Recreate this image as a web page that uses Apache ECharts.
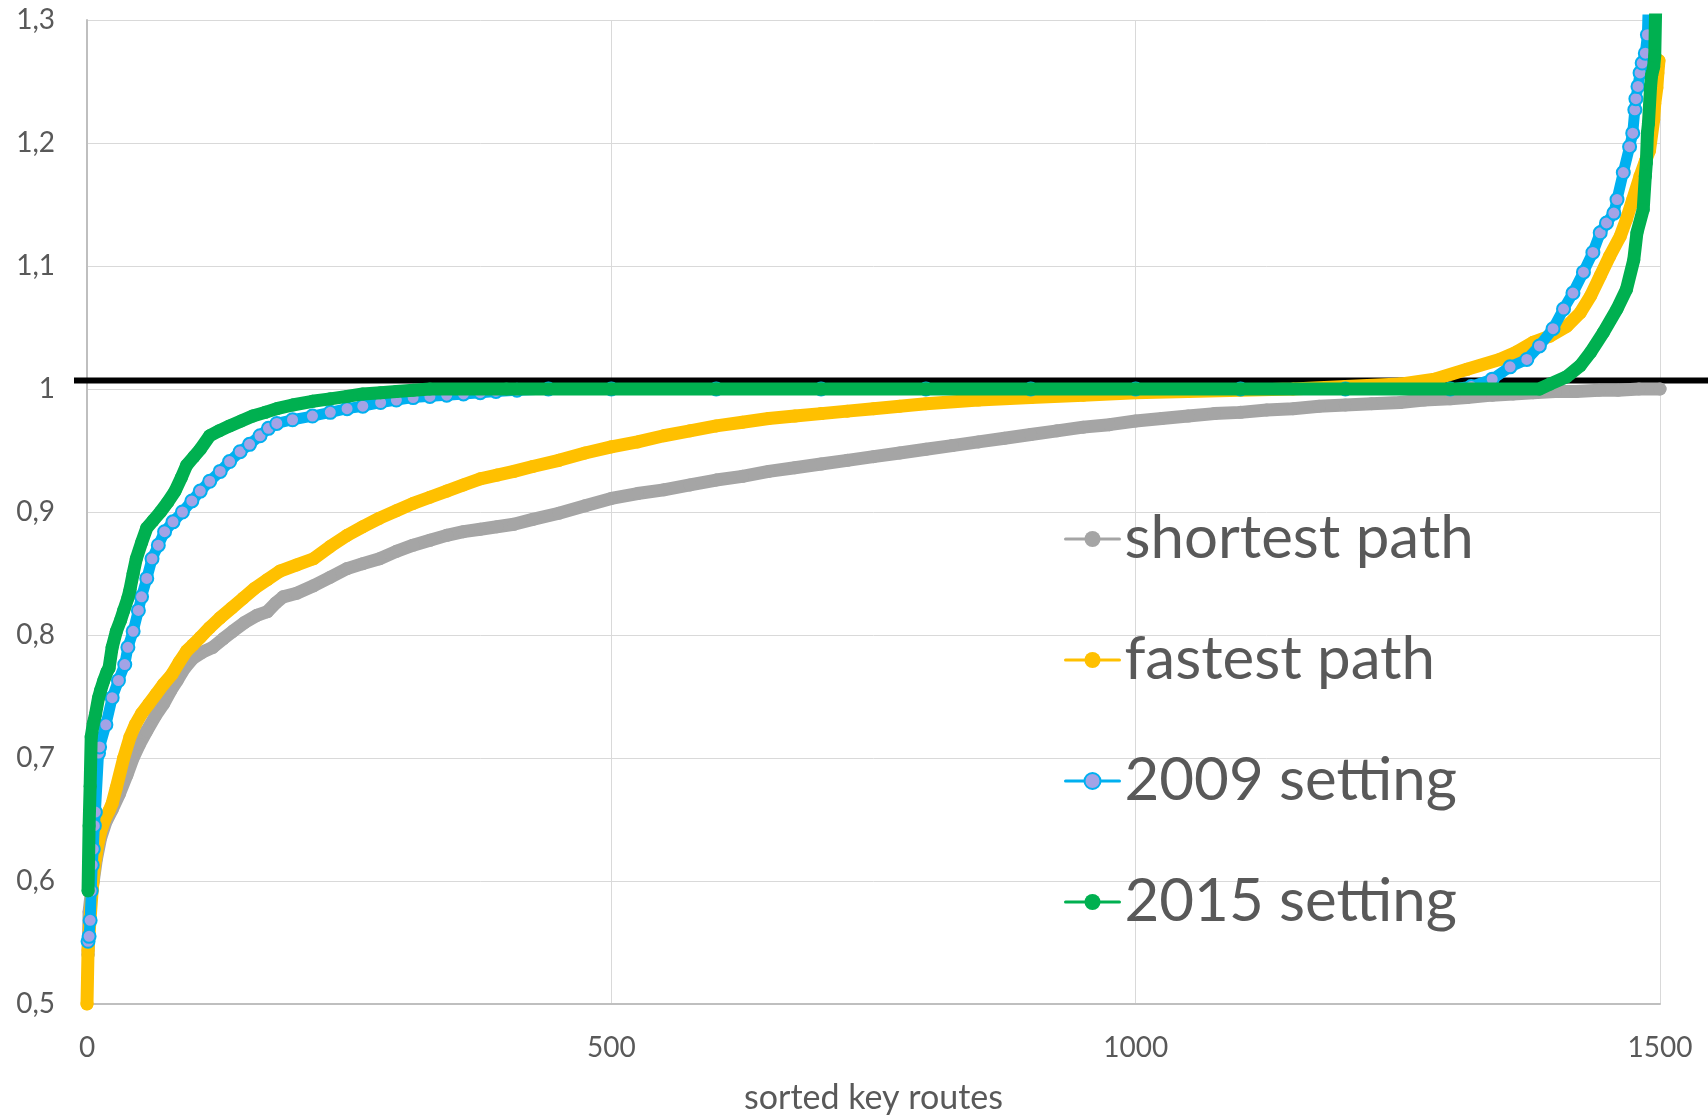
<!DOCTYPE html>
<html>
<head>
<meta charset="utf-8">
<script src="https://cdn.jsdelivr.net/npm/echarts@6/dist/echarts.min.js"></script>
<style>
html,body{margin:0;padding:0;background:#fff;}
#chart{width:1708px;height:1120px;}
</style>
</head>
<body>
<div id="chart"></div>
<script>
// ---- data (route index, ratio) ----
const seriesNames = ['shortest path', 'fastest path', '2009 setting', '2015 setting'];

const shortestPath = [
 [1,.540],[2,.575],[4,.590],[6,.600],[9,.618],[13,.635],[18,.648],[24,.658],[31,.671],[38,.686],
 [44,.700],[50,.711],[57,.722],[65,.734],[73,.744],[80,.755],[86,.763],[93,.773],[101,.781],[110,.786],
 [120,.790],[130,.797],[139,.803],[150,.810],[162,.816],[172,.819],[180,.826],[187,.831],[200,.834],[216,.840],
 [232,.847],[248,.854],[263,.858],[279,.862],[295,.868],[311,.873],[327,.877],[343,.881],[359,.884],[375,.886],
 [391,.888],[407,.890],[425,.894],[450,.899],[475,.905],[500,.911],[525,.915],[550,.918],[575,.922],[600,.926],
 [625,.929],[650,.933],[675,.936],[700,.939],[725,.942],[750,.945],[775,.948],[800,.951],[825,.954],[850,.957],
 [875,.960],[900,.963],[925,.966],[950,.969],[975,.971],[1000,.974],[1025,.976],[1050,.978],[1075,.980],[1100,.981],
 [1125,.983],[1150,.984],[1175,.986],[1200,.987],[1225,.988],[1252,.989],[1275,.991],[1300,.992],[1316,.993],[1340,.995],
 [1360,.996],[1379,.997],[1400,.998],[1420,.998],[1442,.999],[1460,.999],[1480,1.000],[1500,1.000]
];

const fastestPath = [
 [0,.500],[1,.544],[3,.570],[5,.593],[7,.611],[10,.628],[13,.640],[17,.650],[21,.657],[24,.663],
 [28,.676],[35,.700],[41,.717],[46,.727],[52,.736],[59,.744],[66,.752],[73,.760],[81,.768],[88,.778],
 [95,.787],[101,.792],[108,.798],[117,.806],[127,.814],[138,.822],[149,.830],[160,.838],[172,.845],[184,.852],
 [200,.857],[216,.862],[232,.872],[248,.881],[263,.888],[279,.895],[295,.901],[311,.907],[327,.912],[343,.917],
 [359,.922],[375,.927],[391,.930],[407,.933],[425,.937],[450,.942],[475,.948],[500,.953],[525,.957],[550,.962],
 [575,.966],[600,.970],[625,.973],[650,.976],[675,.978],[700,.980],[725,.982],[750,.984],[775,.986],[800,.988],
 [850,.991],[900,.993],[950,.995],[1000,.997],[1050,.998],[1100,.999],[1150,1.000],[1200,1.002],[1252,1.004],[1285,1.008],
 [1316,1.016],[1347,1.024],[1363,1.030],[1379,1.038],[1395,1.043],[1411,1.051],[1424,1.062],[1434,1.076],[1443,1.092],[1452,1.108],
 [1462,1.124],[1468,1.138],[1474,1.154],[1481,1.173],[1486,1.185],[1490,1.194],[1494,1.219],[1495,1.232],[1497,1.245],[1498,1.257],
 [1499,1.267]
];

const setting2009 = [
 [1,.551],[2,.555],[3,.568],[4,.592],[5,.613],[6,.626],[7,.645],[8,.656],[11,.704],[12,.709],
 [18,.727],[24,.749],[30,.763],[36,.776],[39,.790],[44,.803],[49,.820],[52,.831],[57,.846],[62,.862],
 [68,.873],[74,.884],[82,.892],[91,.900],[100,.909],[108,.917],[117,.925],[127,.933],[136,.941],[146,.949],
 [155,.955],[165,.962],[173,.968],[181,.972],[196,.975],[215,.978],[232,.981],[248,.984],[263,.986],[280,.989],
 [295,.991],[311,.993],[327,.994],[343,.995],[359,.996],[375,.997],[390,.998],[410,.999],[440,1.000],[500,1.000],
 [600,1.000],[700,1.000],[800,1.000],[900,1.000],[1000,1.000],[1100,1.000],[1200,1.000],[1300,1.000],[1320,1.002],[1340,1.008],
 [1357,1.018],[1373,1.024],[1385,1.035],[1398,1.049],[1408,1.065],[1417,1.078],[1427,1.095],[1436,1.111],[1443,1.127],[1449,1.135],
 [1456,1.143],[1459,1.154],[1465,1.176],[1471,1.197],[1474,1.208],[1476,1.227],[1477,1.236],[1479,1.246],[1481,1.257],[1483,1.265],
 [1486,1.273],[1488,1.288],[1490,1.350]
];

const setting2015 = [
 [1,.592],[2,.645],[3,.677],[4,.717],[6,.728],[8,.735],[11,.749],[13,.755],[16,.763],[19,.770],
 [21,.773],[24,.790],[28,.803],[32,.812],[35,.820],[39,.830],[41,.837],[44,.850],[47,.862],[52,.875],
 [57,.887],[63,.893],[70,.900],[77,.908],[84,.917],[90,.928],[95,.938],[102,.945],[108,.951],[117,.962],
 [126,.966],[136,.970],[147,.974],[158,.978],[170,.981],[181,.984],[196,.987],[215,.990],[232,.992],[248,.994],
 [263,.996],[280,.997],[295,.998],[311,.999],[327,1.000],[400,1.000],[500,1.000],[600,1.000],[700,1.000],[800,1.000],
 [900,1.000],[1000,1.000],[1100,1.000],[1200,1.000],[1300,1.000],[1385,1.000],[1395,1.004],[1411,1.010],[1424,1.019],[1434,1.030],
 [1446,1.046],[1459,1.065],[1468,1.081],[1475,1.105],[1478,1.127],[1484,1.146],[1486,1.173],[1487,1.184],[1488,1.208],[1489,1.216],
 [1491,1.246],[1492,1.255],[1494,1.262],[1495,1.271],[1497,1.360]
];

const xTicks = [0, 500, 1000, 1500];
const yTicks = [0.5, 0.6, 0.7, 0.8, 0.9, 1.0, 1.1, 1.2, 1.3];
const refLevel = 1.007;   // black reference line drawn across the chart
const xTitle = 'sorted key routes';

// ---- styles ----
const FONT = 'Lato, "Open Sans", sans-serif';
const colors = ['#A5A5A5', '#FFC000', '#00B0F0', '#00B050'];
const markerFill = ['#A5A5A5', '#FFC000', '#A3A3E6', '#00B050'];
const allData = [shortestPath, fastestPath, setting2009, setting2015];

const chart = echarts.init(document.getElementById('chart'), null, {renderer: 'canvas'});

const series = allData.map((d, i) => ({
  name: seriesNames[i],
  type: 'line',
  data: d,
  symbol: 'circle',
  symbolSize: 13,
  showAllSymbol: true,
  clip: true,
  z: 3 + i,
  lineStyle: {color: colors[i], width: i === 2 ? 11 : 13, cap: 'round', join: 'round'},
  itemStyle: {color: markerFill[i], borderColor: colors[i], borderWidth: i === 2 ? 2 : 0},
  emphasis: {disabled: true}
}));

const option = {
  animation: false,
  backgroundColor: '#ffffff',
  textStyle: {fontFamily: FONT},
  grid: {left: 87, right: 48, top: 20, bottom: 112, containLabel: false},
  xAxis: {
    type: 'value',
    min: xTicks[0], max: xTicks[xTicks.length - 1], interval: 500,
    name: xTitle, nameLocation: 'middle', nameGap: 77,
    nameTextStyle: {fontSize: 34, color: '#595959', fontFamily: FONT},
    axisLine: {show: true, lineStyle: {color: '#BFBFBF', width: 2}},
    axisTick: {show: false},
    axisLabel: {fontSize: 28, color: '#595959', margin: 30, fontFamily: FONT,
      formatter: v => String(v)},
    splitLine: {show: true, lineStyle: {color: '#D9D9D9', width: 1}}
  },
  yAxis: {
    type: 'value',
    min: yTicks[0], max: yTicks[yTicks.length - 1], interval: 0.1,
    axisLine: {show: true, lineStyle: {color: '#BFBFBF', width: 2}},
    axisTick: {show: false},
    axisLabel: {
      fontSize: 28, color: '#595959', margin: 32, fontFamily: FONT,
      formatter: v => String(Math.round(v * 10) / 10).replace('.', ',')
    },
    splitLine: {show: true, lineStyle: {color: '#D9D9D9', width: 1}}
  },
  legend: {
    show: true,
    orient: 'vertical',
    left: 1059, top: 504,
    itemWidth: 54, itemHeight: 20,
    itemGap: 61,
    data: seriesNames,
    lineStyle: {width: 3},
    textStyle: {fontSize: 60, color: '#595959', fontFamily: FONT},
    selectedMode: false
  },
  series: series
};
chart.setOption(option);

function drawExtras() {
  const y = chart.convertToPixel({yAxisIndex: 0}, refLevel);
  const x0 = chart.convertToPixel({xAxisIndex: 0}, xTicks[0]) - 13;
  chart.setOption({
    graphic: [{
      type: 'line', z: 1, silent: true,
      shape: {x1: x0, y1: y, x2: 1708, y2: y},
      style: {stroke: '#000000', lineWidth: 6}
    }]
  });
}
drawExtras();
</script>
</body>
</html>
